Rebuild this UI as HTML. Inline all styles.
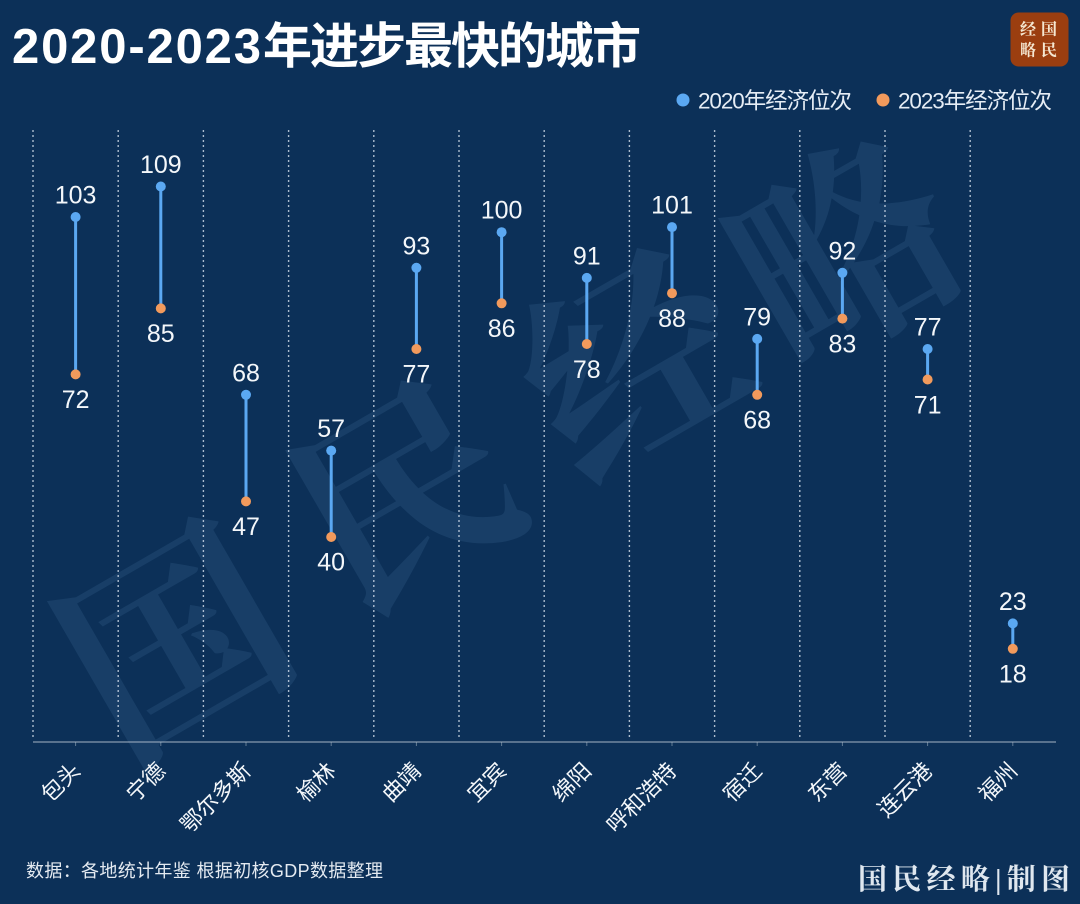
<!DOCTYPE html>
<html>
<head>
<meta charset="utf-8">
<style>
  html, body { margin:0; padding:0; background:#0c3058; }
  body { width:1080px; height:904px; overflow:hidden; }
  svg { display:block; }
  .sans { font-family:"Liberation Sans","Noto Sans CJK SC",sans-serif; }
  .cjk { font-family:"Liberation Sans","Noto Sans CJK SC",sans-serif; }
  .serif { font-family:"Liberation Serif","Noto Serif CJK SC",serif; }
</style>
</head>
<body>
<svg width="1080" height="904" viewBox="0 0 1080 904" xmlns="http://www.w3.org/2000/svg">
  <rect x="0" y="0" width="1080" height="904" fill="#0c3058"/>

  <!-- watermark -->
  <g class="serif" font-size="215" font-weight="700" fill="rgba(110,160,210,0.13)" text-anchor="middle" dominant-baseline="central">
    <text transform="translate(178,648) rotate(-30)">国</text>
    <text transform="translate(408,500) rotate(-30)">民</text>
    <text transform="translate(636,368) rotate(-30)">经</text>
    <text transform="translate(848,258) rotate(-30)">略</text>
  </g>

  <!-- title -->
  <g class="cjk" font-weight="700" fill="#ffffff" font-size="49">
    <text x="12" y="63" textLength="249">2020-2023</text>
    <text x="263" y="63" textLength="378">年进步最快的城市</text>
  </g>

  <!-- logo -->
  <rect x="1010.5" y="12.5" width="58" height="54" rx="8" ry="8" fill="#9b3e10"/>
  <g class="serif" font-size="16" fill="#f5e8d2" text-anchor="middle" dominant-baseline="central" font-weight="700">
    <text x="1028" y="30">经</text>
    <text x="1049" y="30">国</text>
    <text x="1028" y="51">略</text>
    <text x="1049" y="51">民</text>
  </g>

  <!-- legend -->
  <circle cx="683" cy="100" r="6.5" fill="#5ba8f2"/>
  <text class="cjk" x="698" y="108.5" font-size="22.5" fill="#e6edf5" textLength="154">2020年经济位次</text>
  <circle cx="883" cy="100" r="6.5" fill="#f29a5c"/>
  <text class="cjk" x="898" y="108.5" font-size="22.5" fill="#e6edf5" textLength="154">2023年经济位次</text>

  <!-- dotted vertical gridlines -->
  <g stroke="rgba(225,235,245,0.75)" stroke-width="1.4" stroke-dasharray="2 3">
    <line x1="33" y1="130" x2="33" y2="740"/>
    <line x1="118.2" y1="130" x2="118.2" y2="740"/>
    <line x1="203.4" y1="130" x2="203.4" y2="740"/>
    <line x1="288.6" y1="130" x2="288.6" y2="740"/>
    <line x1="373.8" y1="130" x2="373.8" y2="740"/>
    <line x1="459" y1="130" x2="459" y2="740"/>
    <line x1="544.2" y1="130" x2="544.2" y2="740"/>
    <line x1="629.4" y1="130" x2="629.4" y2="740"/>
    <line x1="714.6" y1="130" x2="714.6" y2="740"/>
    <line x1="799.8" y1="130" x2="799.8" y2="740"/>
    <line x1="885" y1="130" x2="885" y2="740"/>
    <line x1="970.2" y1="130" x2="970.2" y2="740"/>
  </g>

  <!-- x axis -->
  <line x1="33" y1="742" x2="1056" y2="742" stroke="rgba(170,185,200,0.65)" stroke-width="1.5"/>
  <g stroke="rgba(170,185,200,0.55)" stroke-width="1">
    <line x1="75.6" y1="742" x2="75.6" y2="746"/>
    <line x1="160.8" y1="742" x2="160.8" y2="746"/>
    <line x1="246" y1="742" x2="246" y2="746"/>
    <line x1="331.2" y1="742" x2="331.2" y2="746"/>
    <line x1="416.4" y1="742" x2="416.4" y2="746"/>
    <line x1="501.6" y1="742" x2="501.6" y2="746"/>
    <line x1="586.8" y1="742" x2="586.8" y2="746"/>
    <line x1="672" y1="742" x2="672" y2="746"/>
    <line x1="757.2" y1="742" x2="757.2" y2="746"/>
    <line x1="842.4" y1="742" x2="842.4" y2="746"/>
    <line x1="927.6" y1="742" x2="927.6" y2="746"/>
    <line x1="1012.8" y1="742" x2="1012.8" y2="746"/>
  </g>

  <!-- dumbbell connectors -->
  <g stroke="#5ba8f2" stroke-width="3">
    <line x1="75.6" y1="217" x2="75.6" y2="374.4"/>
    <line x1="160.8" y1="186.5" x2="160.8" y2="308.4"/>
    <line x1="246" y1="394.8" x2="246" y2="501.4"/>
    <line x1="331.2" y1="450.6" x2="331.2" y2="537"/>
    <line x1="416.4" y1="267.8" x2="416.4" y2="349"/>
    <line x1="501.6" y1="232.2" x2="501.6" y2="303.3"/>
    <line x1="586.8" y1="277.9" x2="586.8" y2="344"/>
    <line x1="672" y1="227.1" x2="672" y2="293.2"/>
    <line x1="757.2" y1="338.9" x2="757.2" y2="394.8"/>
    <line x1="842.4" y1="272.8" x2="842.4" y2="318.6"/>
    <line x1="927.6" y1="349" x2="927.6" y2="379.5"/>
    <line x1="1012.8" y1="623.4" x2="1012.8" y2="648.8"/>
  </g>

  <!-- 2023 dots (orange) -->
  <g fill="#f29a5c">
    <circle cx="75.6" cy="374.4" r="5"/>
    <circle cx="160.8" cy="308.4" r="5"/>
    <circle cx="246" cy="501.4" r="5"/>
    <circle cx="331.2" cy="537" r="5"/>
    <circle cx="416.4" cy="349" r="5"/>
    <circle cx="501.6" cy="303.3" r="5"/>
    <circle cx="586.8" cy="344" r="5"/>
    <circle cx="672" cy="293.2" r="5"/>
    <circle cx="757.2" cy="394.8" r="5"/>
    <circle cx="842.4" cy="318.6" r="5"/>
    <circle cx="927.6" cy="379.5" r="5"/>
    <circle cx="1012.8" cy="648.8" r="5"/>
  </g>
  <!-- 2020 dots (blue) -->
  <g fill="#5ba8f2">
    <circle cx="75.6" cy="217" r="5"/>
    <circle cx="160.8" cy="186.5" r="5"/>
    <circle cx="246" cy="394.8" r="5"/>
    <circle cx="331.2" cy="450.6" r="5"/>
    <circle cx="416.4" cy="267.8" r="5"/>
    <circle cx="501.6" cy="232.2" r="5"/>
    <circle cx="586.8" cy="277.9" r="5"/>
    <circle cx="672" cy="227.1" r="5"/>
    <circle cx="757.2" cy="338.9" r="5"/>
    <circle cx="842.4" cy="272.8" r="5"/>
    <circle cx="927.6" cy="349" r="5"/>
    <circle cx="1012.8" cy="623.4" r="5"/>
  </g>

  <!-- value labels -->
  <g class="sans" font-size="25" fill="#f4f7fa" text-anchor="middle">
    <text x="75.6" y="203.5">103</text>
    <text x="160.8" y="173">109</text>
    <text x="246" y="381.3">68</text>
    <text x="331.2" y="437.1">57</text>
    <text x="416.4" y="254.3">93</text>
    <text x="501.6" y="218.7">100</text>
    <text x="586.8" y="264.4">91</text>
    <text x="672" y="213.6">101</text>
    <text x="757.2" y="325.4">79</text>
    <text x="842.4" y="259.3">92</text>
    <text x="927.6" y="335.5">77</text>
    <text x="1012.8" y="609.9">23</text>
    <text x="75.6" y="408">72</text>
    <text x="160.8" y="342">85</text>
    <text x="246" y="535">47</text>
    <text x="331.2" y="570.5">40</text>
    <text x="416.4" y="382.5">77</text>
    <text x="501.6" y="337">86</text>
    <text x="586.8" y="378">78</text>
    <text x="672" y="327">88</text>
    <text x="757.2" y="428.5">68</text>
    <text x="842.4" y="352.5">83</text>
    <text x="927.6" y="413.5">71</text>
    <text x="1012.8" y="682.5">18</text>
  </g>

  <!-- x category labels -->
  <g class="cjk" font-size="22" fill="#f4f7fa" text-anchor="end">
    <text transform="translate(81.6,772) rotate(-45)">包头</text>
    <text transform="translate(166.8,772) rotate(-45)">宁德</text>
    <text transform="translate(252,772) rotate(-45)">鄂尔多斯</text>
    <text transform="translate(337.2,772) rotate(-45)">榆林</text>
    <text transform="translate(422.4,772) rotate(-45)">曲靖</text>
    <text transform="translate(507.6,772) rotate(-45)">宜宾</text>
    <text transform="translate(592.8,772) rotate(-45)">绵阳</text>
    <text transform="translate(678,772) rotate(-45)">呼和浩特</text>
    <text transform="translate(763.2,772) rotate(-45)">宿迁</text>
    <text transform="translate(848.4,772) rotate(-45)">东营</text>
    <text transform="translate(933.6,772) rotate(-45)">连云港</text>
    <text transform="translate(1018.8,772) rotate(-45)">福州</text>
  </g>

  <!-- source -->
  <text class="cjk" x="26" y="877" font-size="18" fill="#e4eaf1" textLength="357">数据：各地统计年鉴 根据初核GDP数据整理</text>

  <!-- signature -->
  <text class="serif" x="858" y="889" font-size="29" font-weight="700" fill="#dfe7ef" textLength="212">国民经略|制图</text>
</svg>
</body>
</html>
